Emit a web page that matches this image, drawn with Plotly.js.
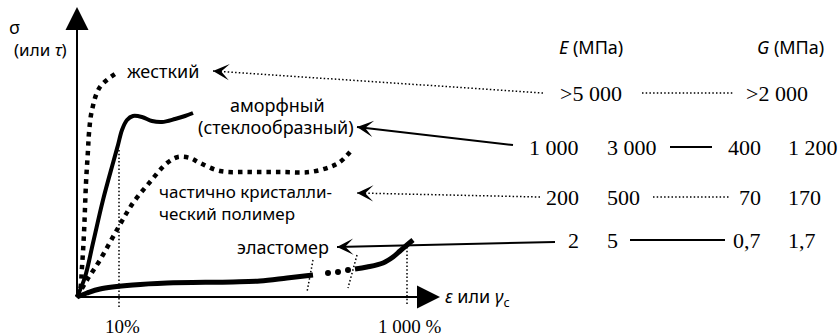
<!DOCTYPE html>
<html>
<head>
<meta charset="utf-8">
<script src="https://cdn.plot.ly/plotly-3.0.1.min.js"></script>
<style>
  html, body { margin: 0; padding: 0; background: #fff; }
  #chart { width: 840px; height: 336px; }
</style>
</head>
<body>
<div id="chart"></div>
<script>
// Schematic stress–strain curves of polymers (diagram units: strain → right, stress ↑)

// rigid polymer
const hardStrain = [0, 3, 5, 7, 9, 11, 12, 15, 23, 41];
const hardStress = [0, 7, 30, 64, 114, 147, 164, 187, 210, 225];

// amorphous (glassy) polymer
const glassStrain = [0, 8, 16, 26, 36, 41, 45, 50, 56, 65, 75, 85, 98, 108, 116];
const glassStress = [0, 20, 54, 97, 134, 152, 167, 177, 181, 180, 176, 175, 178, 181, 184];

// partially crystalline polymer
const semiStrain = [0, 10, 23, 41, 56, 73, 90, 101, 113, 123, 143, 173, 203, 233, 253, 263, 273];
const semiStress = [0, 17, 37, 69, 94, 115, 134, 140, 139, 134, 126, 125, 125, 125, 130, 135, 145];

// elastomer: low part, omitted stretch (dots), upturn near 1000 %
const elastStrain = [0, 10, 23, 56, 90, 156, 183, 210, 236];
const elastStress = [0, 4, 8, 12, 14, 15, 16, 19, 22];
const elastGapStrain = [251, 261, 271];
const elastGapStress = [24, 25, 27];
const elastEndStrain = [278, 290, 306, 316, 323, 330, 336];
const elastEndStress = [28, 30, 34, 40, 46, 52, 57];

// strain marks on the axis
const strainTicks = ['10%', '1 000 %'];
const strainTickAt = [42, 330];

// moduli table (MPa)
const polymerNames = ['жесткий', 'аморфный', 'частично кристаллический', 'эластомер'];
const eLow  = ['>5 000', '1 000', '200', '2'];
const eHigh = ['',       '3 000', '500', '5'];
const gLow  = ['>2 000', '400',   '70',  '0,7'];
const gHigh = ['',       '1 200', '170', '1,7'];

// ---------- styling / placement ----------
const SANS = 'Noto Sans, DejaVu Sans, sans-serif';
const SERIF = 'Liberation Serif, Times New Roman, serif';
const INK = '#000';
const DOTS = '4.5px,5px';
const FINE = '1.5px,2.2px';

const traces = [];
function curve(x, y, width, dash, shape) {
  traces.push({
    type: 'scatter', mode: 'lines', x: x, y: y, hoverinfo: 'skip',
    line: { color: INK, width: width, dash: dash || 'solid', shape: shape || 'spline', smoothing: 1 }
  });
}

curve(hardStrain, hardStress, 4.5, DOTS);
curve(glassStrain, glassStress, 4, 'solid');
curve(semiStrain, semiStress, 4.5, DOTS);
curve(elastStrain, elastStress, 5, 'solid');
curve(elastEndStrain, elastEndStress, 5, 'solid');
traces.push({
  type: 'scatter', mode: 'markers', x: elastGapStrain, y: elastGapStress, hoverinfo: 'skip',
  marker: { color: INK, size: 6, symbol: 'circle' }
});

// guide lines for the strain marks
curve([strainTickAt[0], strainTickAt[0]], [147, -11], 1.5, FINE, 'linear');
curve([strainTickAt[1], strainTickAt[1]], [50, -8], 1.5, FINE, 'linear');
// break marks on the elastomer curve
curve([236, 230], [37, 5], 1.5, FINE, 'linear');
curve([280, 271], [42, 9], 1.5, FINE, 'linear');

// leader lines from the table rows to the curve labels
const rowY = [204, 150, 100, 57];
const leaders = [
  { from: [466, 204], to: [136, 226], dash: FINE, w: 1.5 },
  { from: [436, 152], to: [280, 170], dash: 'solid', w: 2 },
  { from: [463, 100], to: [280, 104], dash: FINE, w: 1.5 },
  { from: [478, 55],  to: [260, 50],  dash: 'solid', w: 2 }
];
leaders.forEach(l => curve([l.from[0], l.to[0]], [l.from[1], l.to[1]], l.w, l.dash, 'linear'));
// E–G connectors
const links = [[565, 656], [593, 635], [576, 653], [553, 648]];
links.forEach((s, i) => curve(s, [rowY[i], rowY[i]], i % 2 ? 2 : 1.5, i % 2 ? 'solid' : FINE, 'linear'));

const ann = [];
function label(text, x, y, o) {
  o = o || {};
  ann.push({
    text: text, x: x, y: y, xref: 'x', yref: 'y', showarrow: false,
    xanchor: o.xa || 'center', yanchor: 'middle',
    font: { family: o.family || SANS, size: o.size || 18, color: INK }
  });
}

// axes with arrowheads
ann.push({ x: 0, y: 290, ax: 0, ay: -2, xref: 'x', yref: 'y', axref: 'x', ayref: 'y', text: '',
  showarrow: true, arrowhead: 2, arrowwidth: 2, arrowsize: 2.3, arrowcolor: INK, standoff: 0 });
ann.push({ x: 363, y: 0, ax: -1, ay: 0, xref: 'x', yref: 'y', axref: 'x', ayref: 'y', text: '',
  showarrow: true, arrowhead: 2, arrowwidth: 2, arrowsize: 2.3, arrowcolor: INK, standoff: 0 });

// small arrowheads at the labels
leaders.forEach(l => {
  const dx = l.from[0] - l.to[0], dy = l.from[1] - l.to[1];
  const len = Math.hypot(dx, dy);
  ann.push({ x: l.to[0], y: l.to[1], xref: 'x', yref: 'y', text: '', showarrow: true,
    ax: 8 * dx / len, ay: -8 * dy / len, arrowhead: 3, arrowwidth: 1.6, arrowsize: 1.7,
    arrowcolor: INK, standoff: 0 });
});

label('σ', -63, 270, { size: 18 });
label('(или <i>τ</i>)', -37, 248, { size: 17 });
label(polymerNames[0], 48, 226, { xa: 'left' });
label('аморфный', 200, 192);
label('(стеклообразный)', 279, 170, { xa: 'right' });
label('частично кристалли-', 80, 106, { xa: 'left', size: 17 });
label('ческий полимер', 80, 84, { xa: 'left', size: 17 });
label(polymerNames[3], 254, 50, { xa: 'right' });
label('<i>ε</i> или <i>γ</i><sub>c</sub>', 366, 0, { xa: 'left', size: 18 });
strainTicks.forEach((t, i) => label(t, strainTickAt[i] + 3, -29, { family: SERIF, size: 19 }));

label('<i>E</i> (МПа)', 514, 250, { size: 18 });
label('<i>G</i> (МПа)', 713, 250, { size: 18 });

// table values
rowY.forEach((y, i) => {
  const o = { family: SERIF, size: 22 };
  if (eHigh[i]) {
    label(eLow[i], 504, y, Object.assign({ xa: 'right' }, o));
    label(eHigh[i], 528, y, Object.assign({ xa: 'left' }, o));
  } else {
    label(eLow[i], 514, y, o);
  }
  if (gHigh[i]) {
    label(gLow[i], 686, y, Object.assign({ xa: 'right' }, o));
    label(gHigh[i], 709, y, Object.assign({ xa: 'left' }, o));
  } else {
    label(gLow[i], 667, y, Object.assign({ xa: 'left' }, o));
  }
});

const hidden = { visible: false, fixedrange: true };
const layout = {
  width: 840, height: 336,
  margin: { l: 0, r: 0, t: 0, b: 0 },
  paper_bgcolor: '#fff', plot_bgcolor: '#fff',
  showlegend: false,
  font: { family: SANS, color: INK },
  xaxis: Object.assign({ range: [-77, 763] }, hidden),
  yaxis: Object.assign({ range: [-39, 297] }, hidden),
  annotations: ann
};

Plotly.newPlot('chart', traces, layout, { staticPlot: true, displayModeBar: false });
</script>
</body>
</html>
